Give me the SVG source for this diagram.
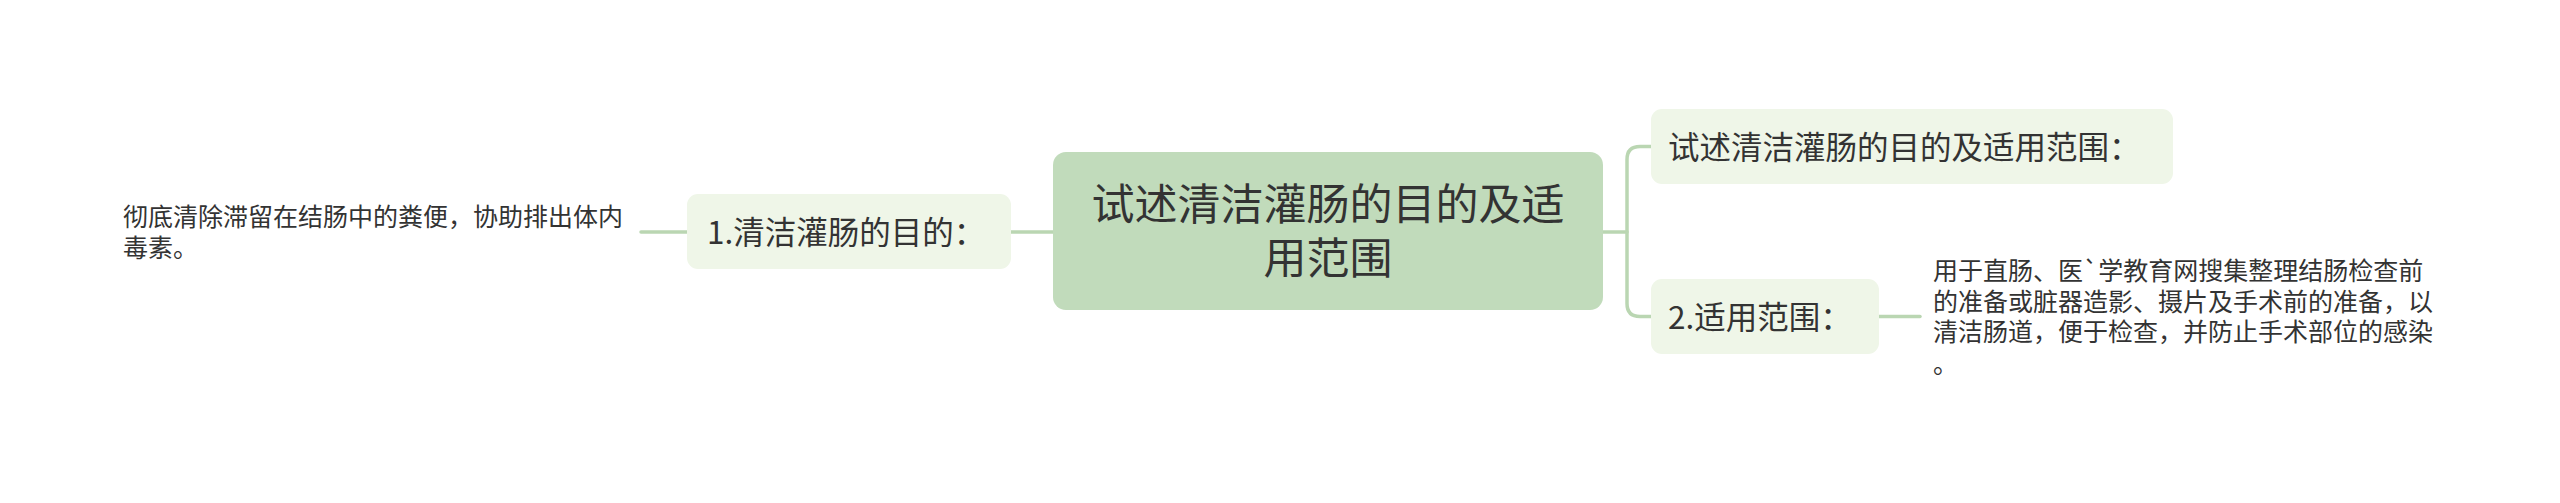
<svg xmlns="http://www.w3.org/2000/svg" width="2560" height="503" viewBox="0 0 2560 503">
<style>
text{font-family:"Noto Sans CJK SC","Microsoft YaHei",sans-serif;fill:#333333;}
.root{fill:#c1dbbb;}
.node{fill:#eff6e8;}
.t-root{font-size:43px;text-anchor:middle;}
.t-node{font-size:31.5px;}
.t-leaf{font-size:25px;}
.conn{fill:none;stroke:#bad6b2;stroke-width:3.5;stroke-linecap:round;}
</style>
<rect width="2560" height="503" fill="#ffffff"/>
<g id="connectors">
<path class="conn" d="M1053,232 H1011"/>
<path class="conn" d="M687,232 H641"/>
<path class="conn" d="M1603,232 H1627"/>
<path class="conn" d="M1651,146.5 H1640 Q1627,146.5 1627,159.5 V303.5 Q1627,316.5 1640,316.5 H1651"/>
<path class="conn" d="M1879,316.5 H1920"/>
</g>
<g id="root">
<rect class="root" x="1053" y="152" width="550" height="158" rx="13"/>
<text class="t-root" x="1328" y="220">试述清洁灌肠的目的及适</text>
<text class="t-root" x="1328" y="274">用范围</text>
</g>
<g id="node-purpose">
<rect class="node" x="687" y="194" width="324" height="75" rx="11"/>
<text class="t-node" x="707" y="244">1.清洁灌肠的目的：</text>
</g>
<g id="leaf-purpose">
<text class="t-leaf" x="123" y="226">彻底清除滞留在结肠中的粪便，协助排出体内</text>
<text class="t-leaf" x="123" y="256.5">毒素。</text>
</g>
<g id="node-title">
<rect class="node" x="1651" y="109" width="522" height="75" rx="11"/>
<text class="t-node" x="1668" y="158.5">试述清洁灌肠的目的及适用范围：</text>
</g>
<g id="node-scope">
<rect class="node" x="1651" y="279" width="228" height="75" rx="11"/>
<text class="t-node" x="1668" y="328.5">2.适用范围：</text>
</g>
<g id="leaf-scope">
<text class="t-leaf" x="1933" y="280">用于直肠、医`学教育网搜集整理结肠检查前</text>
<text class="t-leaf" x="1933" y="310.5">的准备或脏器造影、摄片及手术前的准备，以</text>
<text class="t-leaf" x="1933" y="341">清洁肠道，便于检查，并防止手术部位的感染</text>
<text class="t-leaf" x="1933" y="373">。</text>
</g>
</svg>
